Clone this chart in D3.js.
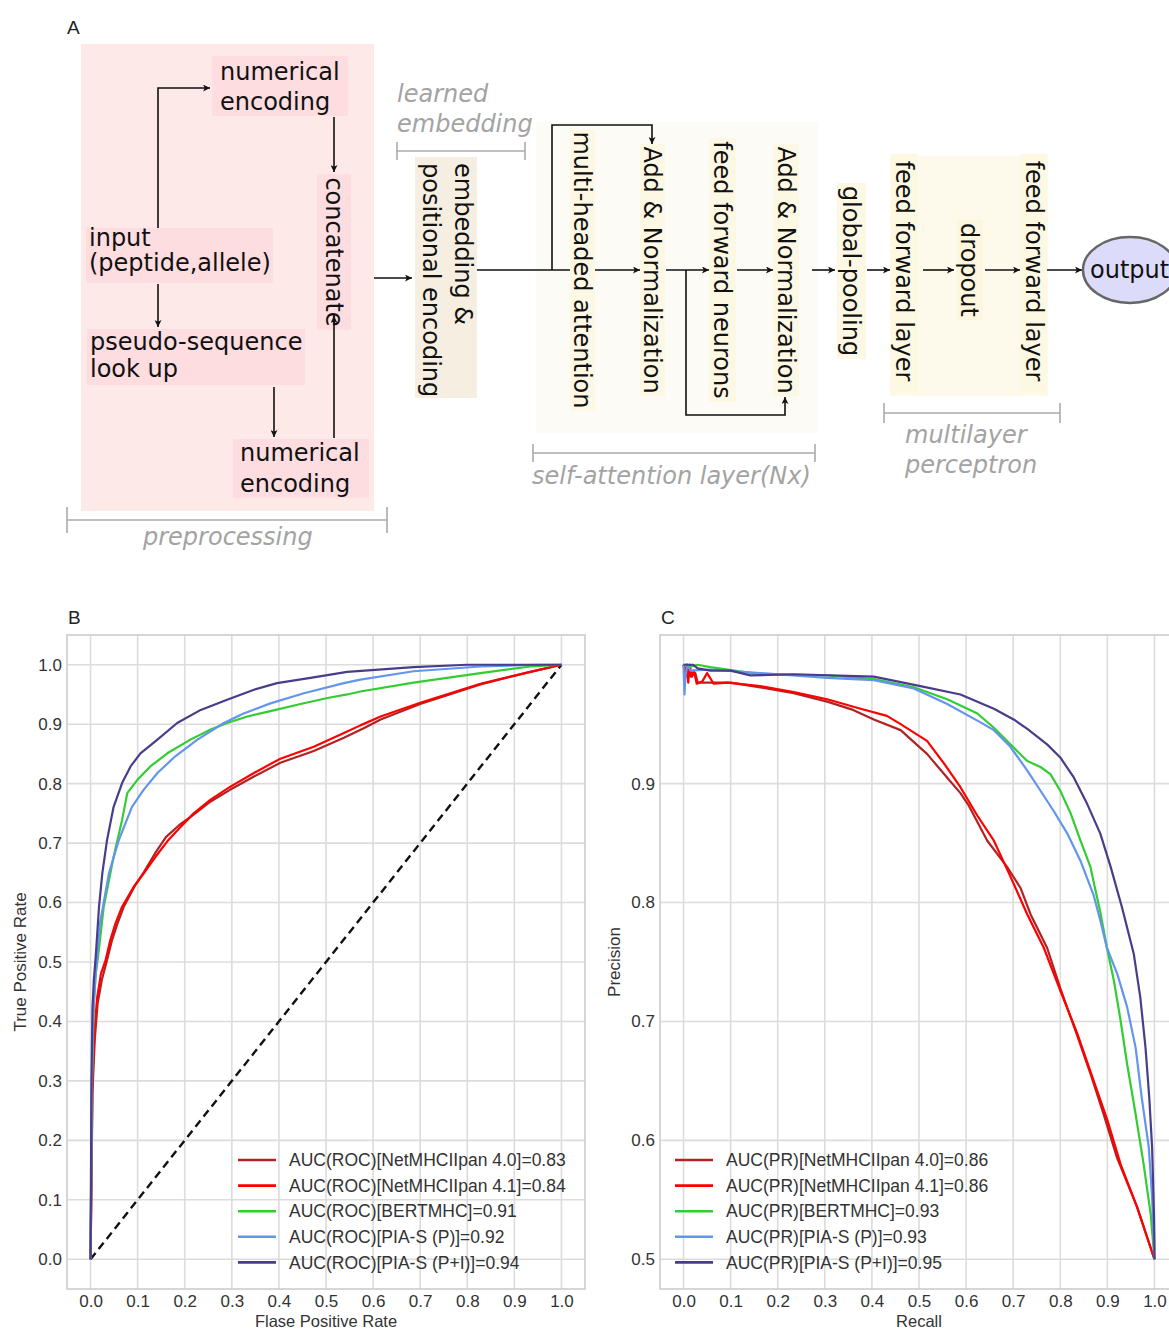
<!DOCTYPE html>
<html>
<head>
<meta charset="utf-8">
<script src="https://cdn.jsdelivr.net/npm/d3@7"></script>
<style>
  body { margin: 0; background: #fff; }
  svg { display: block; }
</style>
</head>
<body>
<svg id="fig" width="1169" height="1332"></svg>
<script>
// ---------------- data ----------------
const seriesNames = ["NetMHCIIpan 4.0", "NetMHCIIpan 4.1", "BERTMHC", "PIA-S (P)", "PIA-S (P+I)"];
const rocAuc = ["0.83", "0.84", "0.91", "0.92", "0.94"];
const prAuc = ["0.86", "0.86", "0.93", "0.93", "0.95"];
const seriesColors = ["#b22222", "#ff0000", "#32cd32", "#6495ed", "#483d8b"];

const xTicks = [0, 0.1, 0.2, 0.3, 0.4, 0.5, 0.6, 0.7, 0.8, 0.9, 1.0];
const rocYTicks = [0, 0.1, 0.2, 0.3, 0.4, 0.5, 0.6, 0.7, 0.8, 0.9, 1.0];
const prYTicks = [0.5, 0.6, 0.7, 0.8, 0.9];

// ROC curves: [false positive rate, true positive rate]
const rocNet40 = [[0,0],[0.002,0.12],[0.004,0.28],[0.009,0.37],[0.015,0.43],[0.024,0.47],[0.034,0.50],[0.045,0.535],[0.056,0.562],[0.07,0.592],[0.094,0.628],[0.114,0.652],[0.138,0.684],[0.16,0.71],[0.188,0.73],[0.219,0.748],[0.255,0.77],[0.297,0.79],[0.347,0.812],[0.403,0.835],[0.474,0.855],[0.538,0.877],[0.58,0.893],[0.616,0.908],[0.70,0.934],[0.828,0.967],[0.934,0.988],[1,1]];
const rocNet41 = [[0,0],[0.002,0.15],[0.004,0.30],[0.008,0.38],[0.014,0.44],[0.022,0.48],[0.032,0.503],[0.042,0.537],[0.053,0.565],[0.067,0.593],[0.092,0.627],[0.113,0.649],[0.138,0.677],[0.163,0.703],[0.191,0.727],[0.219,0.75],[0.255,0.773],[0.297,0.795],[0.347,0.818],[0.403,0.842],[0.474,0.862],[0.538,0.885],[0.573,0.898],[0.616,0.913],[0.70,0.936],[0.828,0.968],[0.934,0.988],[1,1]];
const rocBert = [[0,0],[0.003,0.3],[0.007,0.43],[0.011,0.48],[0.016,0.509],[0.028,0.593],[0.049,0.677],[0.067,0.739],[0.078,0.784],[0.099,0.806],[0.127,0.829],[0.163,0.851],[0.212,0.874],[0.255,0.891],[0.29,0.902],[0.333,0.913],[0.382,0.922],[0.446,0.934],[0.503,0.944],[0.545,0.950],[0.573,0.955],[0.686,0.970],[0.828,0.986],[0.934,0.997],[1,1]];
const rocPiaP = [[0,0],[0.003,0.3],[0.006,0.42],[0.01,0.47],[0.014,0.509],[0.02,0.565],[0.039,0.649],[0.06,0.705],[0.088,0.761],[0.113,0.79],[0.142,0.818],[0.18,0.846],[0.227,0.874],[0.283,0.902],[0.325,0.918],[0.382,0.935],[0.453,0.952],[0.538,0.969],[0.573,0.975],[0.686,0.989],[0.828,0.997],[0.95,1],[1,1]];
const rocPiaPI = [[0,0],[0.002,0.3],[0.004,0.42],[0.007,0.47],[0.011,0.509],[0.018,0.593],[0.025,0.649],[0.035,0.705],[0.049,0.761],[0.067,0.801],[0.085,0.829],[0.106,0.851],[0.142,0.874],[0.184,0.902],[0.234,0.924],[0.29,0.941],[0.347,0.958],[0.396,0.969],[0.467,0.978],[0.545,0.988],[0.686,0.996],[0.8,1],[1,1]];

// Precision-recall curves: [recall, precision]
const prNet40 = [[0,1],[0.005,0.992],[0.008,1],[0.015,0.99],[0.025,0.993],[0.03,0.985],[0.06,0.985],[0.1,0.985],[0.163,0.981],[0.234,0.976],[0.305,0.969],[0.36,0.962],[0.404,0.954],[0.461,0.945],[0.517,0.925],[0.56,0.905],[0.588,0.892],[0.605,0.882],[0.645,0.852],[0.687,0.83],[0.716,0.812],[0.737,0.79],[0.772,0.762],[0.8,0.728],[0.836,0.688],[0.865,0.655],[0.892,0.622],[0.92,0.586],[0.963,0.544],[1,0.5]];
const prNet41 = [[0,1],[0.004,0.99],[0.006,1],[0.01,0.985],[0.013,1],[0.018,0.99],[0.022,0.995],[0.028,0.984],[0.04,0.986],[0.05,0.993],[0.064,0.984],[0.093,0.985],[0.163,0.982],[0.234,0.977],[0.305,0.971],[0.376,0.963],[0.432,0.957],[0.461,0.95],[0.517,0.936],[0.553,0.917],[0.588,0.897],[0.624,0.873],[0.659,0.852],[0.694,0.822],[0.73,0.79],[0.765,0.762],[0.8,0.726],[0.836,0.69],[0.871,0.65],[0.9,0.617],[0.928,0.58],[0.963,0.544],[1,0.5]];
const prBert = [[0,1],[0.01,0.998],[0.03,1],[0.057,0.998],[0.163,0.992],[0.305,0.991],[0.404,0.988],[0.489,0.981],[0.56,0.971],[0.624,0.959],[0.659,0.947],[0.694,0.933],[0.73,0.919],[0.758,0.914],[0.779,0.908],[0.8,0.894],[0.822,0.875],[0.843,0.852],[0.864,0.83],[0.875,0.81],[0.885,0.792],[0.899,0.762],[0.914,0.734],[0.928,0.701],[0.942,0.664],[0.96,0.622],[0.977,0.58],[0.992,0.538],[1,0.5]];
const prPiaP = [[0,1],[0.002,0.975],[0.004,0.99],[0.008,1],[0.015,0.995],[0.057,0.996],[0.163,0.993],[0.305,0.989],[0.404,0.987],[0.489,0.98],[0.56,0.967],[0.624,0.953],[0.659,0.945],[0.694,0.931],[0.73,0.911],[0.758,0.894],[0.786,0.877],[0.815,0.858],[0.843,0.835],[0.871,0.806],[0.885,0.785],[0.899,0.762],[0.921,0.74],[0.942,0.712],[0.96,0.678],[0.973,0.636],[0.988,0.594],[0.995,0.552],[1,0.5]];
const prPiaPI = [[0,1],[0.02,1],[0.03,0.997],[0.057,0.995],[0.1,0.995],[0.142,0.991],[0.234,0.992],[0.404,0.99],[0.503,0.982],[0.588,0.975],[0.659,0.963],[0.701,0.954],[0.73,0.946],[0.772,0.933],[0.8,0.922],[0.829,0.905],[0.857,0.883],[0.885,0.858],[0.907,0.83],[0.931,0.796],[0.956,0.757],[0.97,0.72],[0.981,0.678],[0.989,0.636],[0.995,0.594],[0.999,0.538],[1,0.513],[1,0.5]];

const rocSeries = [rocNet40, rocNet41, rocBert, rocPiaP, rocPiaPI];
const prSeries = [prNet40, prNet41, prBert, prPiaP, prPiaPI];

// ---------------- setup ----------------
const svg = d3.select("#fig");
svg.append("rect").attr("width", 1169).attr("height", 1332).attr("fill", "#fff");

const defs = svg.append("defs");
defs.append("marker")
  .attr("id", "arrowhead").attr("viewBox", "0 0 10 10")
  .attr("refX", 10).attr("refY", 5)
  .attr("markerWidth", 9).attr("markerHeight", 7)
  .attr("markerUnits", "userSpaceOnUse")
  .attr("orient", "auto")
  .append("path").attr("d", "M0,0 L10,5 L0,10 L2.5,5 Z").attr("fill", "#111");

const DIAG_FONT = "'DejaVu Sans', Verdana, sans-serif";
const PLOT_FONT = "'Liberation Sans', Arial, Helvetica, sans-serif";

// ---------------- panel A: model diagram ----------------
const gA = svg.append("g");

function rect(x0, y0, x1, y1, fill) {
  gA.append("rect").attr("x", x0).attr("y", y0)
    .attr("width", x1 - x0).attr("height", y1 - y0).attr("fill", fill);
}
function hText(x, baselines, lines, opts = {}) {
  const t = gA.append("text")
    .attr("font-family", DIAG_FONT).attr("font-size", 24)
    .attr("fill", opts.fill || "#111")
    .attr("font-style", opts.italic ? "italic" : "normal");
  lines.forEach((s, i) => t.append("tspan").attr("x", x).attr("y", baselines[i]).text(s));
}
function vText(cx, cy, s, anchor = "middle") {
  gA.append("text")
    .attr("transform", `translate(${cx},${cy}) rotate(90)`)
    .attr("font-family", DIAG_FONT).attr("font-size", 24).attr("fill", "#111")
    .attr("text-anchor", anchor).attr("dominant-baseline", "central")
    .text(s);
}
function arrow(pts, head = true) {
  gA.append("path")
    .attr("d", d3.line()(pts))
    .attr("fill", "none").attr("stroke", "#111").attr("stroke-width", 1.6)
    .attr("marker-end", head ? "url(#arrowhead)" : null);
}
function bracket(x0, x1, y, half) {
  const g = gA.append("g").attr("stroke", "#aaa").attr("stroke-width", 1.6);
  g.append("line").attr("x1", x0).attr("x2", x1).attr("y1", y).attr("y2", y);
  g.append("line").attr("x1", x0).attr("x2", x0).attr("y1", y - half).attr("y2", y + half);
  g.append("line").attr("x1", x1).attr("x2", x1).attr("y1", y - half).attr("y2", y + half);
}

// preprocessing block
rect(81, 44, 374, 511, "#fee9e9");
rect(212, 56, 348, 116, "#fddde0");
rect(86, 228, 273, 283, "#fddde0");
rect(87, 329, 305, 385, "#fddde0");
rect(233, 439, 369, 498, "#fddde0");
rect(317, 174, 351, 330, "#fddde0");

hText(220, [80, 110], ["numerical", "encoding"]);
hText(89, [246, 271], ["input", "(peptide,allele)"]);
hText(90, [350, 377], ["pseudo-sequence", "look up"]);
hText(240, [461, 492], ["numerical", "encoding"]);
vText(334, 252, "concatenate");

arrow([[158, 228], [158, 88], [210, 88]]);
arrow([[158, 284], [158, 327]]);
arrow([[274, 387], [274, 437]]);
arrow([[334, 117], [334, 172]]);
arrow([[334, 438], [334, 316]]);
arrow([[374, 278], [412, 278]]);

bracket(67, 387, 520, 13);
hText(143, [545], ["preprocessing"], { italic: true, fill: "#a3a3a3" });

// learned embedding
rect(415, 157, 477, 398, "#f6efe1");
gA.append("text")
  .attr("transform", "translate(415,163) rotate(90)")
  .attr("font-family", DIAG_FONT).attr("font-size", 24).attr("fill", "#111")
  .call(t => {
    t.append("tspan").attr("x", 0).attr("y", -40).text("embedding &");
    t.append("tspan").attr("x", 0).attr("y", -8).text("positional encoding");
  });
bracket(397, 525, 151, 9);
hText(397, [102, 132], ["learned", "embedding"], { italic: true, fill: "#a3a3a3" });

// self-attention block
rect(536, 122, 818, 433, "#fcfbf5");
rect(570, 130, 595, 411, "#fdf8e4");
rect(640, 144, 665, 396, "#fdf8e4");
rect(709, 138, 736, 402, "#fdf8e4");
rect(773, 144, 799, 396, "#fdf8e4");
vText(582, 270, "multi-headed attention");
vText(652, 270, "Add & Normalization");
vText(722, 270, "feed forward neurons");
vText(786, 270, "Add & Normalization");

arrow([[477, 270], [570, 270]], false);
arrow([[552, 270], [552, 125], [652, 125], [652, 144]]);
arrow([[595, 270], [640, 270]]);
arrow([[666, 270], [709, 270]]);
arrow([[686, 270], [686, 415], [785, 415], [785, 397]]);
arrow([[737, 270], [773, 270]]);
arrow([[812, 270], [835, 270]]);

bracket(533, 815, 453, 9);
hText(532, [484], ["self-attention layer(Nx)"], { italic: true, fill: "#a3a3a3" });

// pooling and perceptron
rect(837, 183, 866, 359, "#fdf8e4");
vText(851, 271, "global-pooling");
rect(890, 156, 1048, 396, "#fdfaec");
rect(891, 154, 918, 394, "#fdf8e2");
rect(1020, 154, 1047, 394, "#fdf8e2");
rect(957, 220, 983, 320, "#fdf6df");
vText(904, 271, "feed forward layer");
vText(969, 270, "dropout");
vText(1034, 271, "feed forward layer");

arrow([[867, 270], [890, 270]]);
arrow([[923, 270], [954, 270]]);
arrow([[985, 270], [1020, 270]]);
arrow([[1047, 270], [1082, 270]]);

bracket(884, 1060, 413, 10);
hText(905, [443, 473], ["multilayer", "perceptron"], { italic: true, fill: "#a3a3a3" });

gA.append("ellipse").attr("cx", 1130).attr("cy", 270).attr("rx", 47).attr("ry", 33)
  .attr("fill", "#dcdcfa").attr("stroke", "#666").attr("stroke-width", 2.5);
hText(1090, [278], ["output"]);

svg.append("text").attr("x", 67).attr("y", 34)
  .attr("font-family", PLOT_FONT).attr("font-size", 19).attr("fill", "#222").text("A");

// ---------------- panels B and C ----------------
function drawPanel(opts) {
  const { left, right, top, bottom, xDomain, yDomain, yTicks, series, aucs, kind,
          xTitle, yTitle, yTitleX, letter, legendX, diagonal } = opts;
  const x = d3.scaleLinear().domain(xDomain).range([left, right]);
  const y = d3.scaleLinear().domain(yDomain).range([bottom, top]);
  const g = svg.append("g");

  const clipId = "clip-" + letter;
  defs.append("clipPath").attr("id", clipId).append("rect")
    .attr("x", left).attr("y", top).attr("width", right - left).attr("height", bottom - top);

  // grid
  const grid = g.append("g").attr("stroke", "#dcdcdc").attr("stroke-width", 1.6);
  grid.selectAll(".gx").data(xTicks).join("line")
    .attr("x1", d => x(d)).attr("x2", d => x(d)).attr("y1", top).attr("y2", bottom);
  grid.selectAll(".gy").data(yTicks).join("line")
    .attr("x1", left).attr("x2", right).attr("y1", d => y(d)).attr("y2", d => y(d));

  // frame
  g.append("rect").attr("x", left).attr("y", top)
    .attr("width", right - left).attr("height", bottom - top)
    .attr("fill", "none").attr("stroke", "#cccccc").attr("stroke-width", 1.6);

  // tick labels via d3 axes (no domain/tick lines)
  const xAxis = g.append("g").attr("transform", `translate(0,${bottom})`)
    .call(d3.axisBottom(x).tickValues(xTicks).tickFormat(d3.format(".1f")).tickSize(0).tickPadding(6));
  const yAxis = g.append("g").attr("transform", `translate(${left},0)`)
    .call(d3.axisLeft(y).tickValues(yTicks).tickFormat(d3.format(".1f")).tickSize(0).tickPadding(5));
  [xAxis, yAxis].forEach(a => {
    a.select(".domain").remove();
    a.selectAll("text").attr("font-family", PLOT_FONT).attr("font-size", 17).attr("fill", "#333");
  });

  // curves
  const plot = g.append("g").attr("clip-path", `url(#${clipId})`);
  const line = d3.line().x(d => x(d[0])).y(d => y(d[1]));
  if (diagonal) {
    plot.append("path").attr("d", line([[0, 0], [1, 1]]))
      .attr("fill", "none").attr("stroke", "#111").attr("stroke-width", 2.4)
      .attr("stroke-dasharray", "8,5");
  }
  series.forEach((s, i) => {
    plot.append("path").attr("d", line(s))
      .attr("fill", "none").attr("stroke", seriesColors[i]).attr("stroke-width", 2.2)
      .attr("stroke-linejoin", "round");
  });

  // legend
  const lg = g.append("g");
  seriesNames.forEach((name, i) => {
    const yy = 1160 + i * 25.6;
    lg.append("line").attr("x1", legendX).attr("x2", legendX + 38).attr("y1", yy).attr("y2", yy)
      .attr("stroke", seriesColors[i]).attr("stroke-width", 2.6);
    lg.append("text").attr("x", legendX + 51).attr("y", yy).attr("dy", "0.35em")
      .attr("font-family", PLOT_FONT).attr("font-size", 17.5).attr("fill", "#333")
      .text(`AUC(${kind})[${name}]=${aucs[i]}`);
  });

  // titles
  g.append("text").attr("x", (x(0) + x(1)) / 2).attr("y", 1327)
    .attr("text-anchor", "middle").attr("font-family", PLOT_FONT).attr("font-size", 16.5).attr("fill", "#333")
    .text(xTitle);
  g.append("text").attr("transform", `translate(${yTitleX},${y((yDomain[0] + yDomain[1]) / 2)}) rotate(-90)`)
    .attr("text-anchor", "middle").attr("font-family", PLOT_FONT).attr("font-size", 17).attr("fill", "#333")
    .text(yTitle);
  svg.append("text").attr("x", left + 1).attr("y", 624)
    .attr("font-family", PLOT_FONT).attr("font-size", 19).attr("fill", "#222").text(letter);
}

drawPanel({
  left: 67, right: 585, top: 635, bottom: 1289,
  xDomain: [-0.05, 1.05], yDomain: [-0.05, 1.05], yTicks: rocYTicks,
  series: rocSeries, aucs: rocAuc, kind: "ROC",
  xTitle: "Flase Positive Rate", yTitle: "True Positive Rate", yTitleX: 26,
  letter: "B", legendX: 238, diagonal: true
});
drawPanel({
  left: 660, right: 1178, top: 635, bottom: 1289,
  xDomain: [-0.05, 1.05], yDomain: [0.475, 1.025], yTicks: prYTicks,
  series: prSeries, aucs: prAuc, kind: "PR",
  xTitle: "Recall", yTitle: "Precision", yTitleX: 620,
  letter: "C", legendX: 675, diagonal: false
});
</script>
</body>
</html>
